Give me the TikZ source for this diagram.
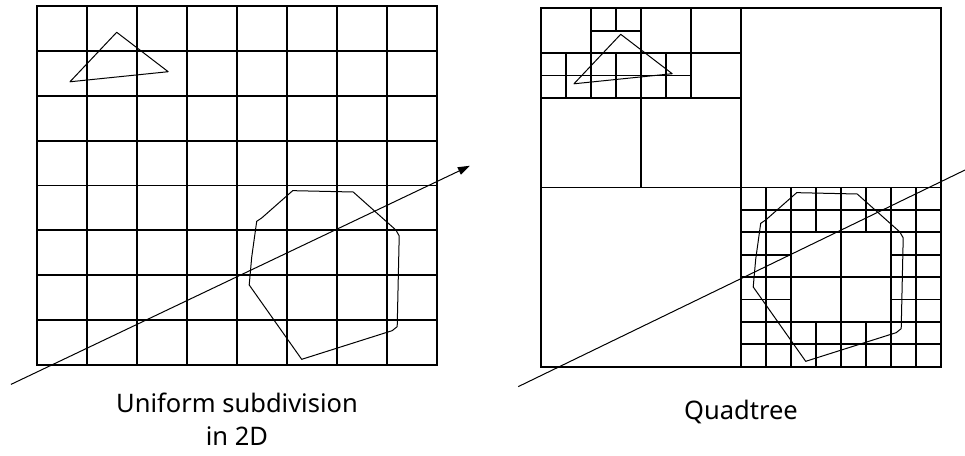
\documentclass[tikz,border=0pt]{standalone}
\usepackage{fontspec}
\setmainfont{Noto Sans}
\usetikzlibrary{arrows.meta}

\begin{document}
\begin{tikzpicture}[x=1pt, y=-1pt,
  cell/.style={line width=1.8pt, line cap=rect},
  outline/.style={line width=1pt, line join=round},
  ray/.style={line width=1pt},
  caption/.style={font=\fontsize{25.5}{33}\selectfont, inner sep=0pt, align=center}]
  \useasboundingbox (0,0) rectangle (965,455);
  \begin{scope}[shift={(36.7,6.3)}, x=25pt, y=-22.4pt]
    \foreach \i in {0,2,...,16} {
      \draw[cell] (\i,0) -- (\i,16);
      \draw[cell] (0,\i) -- (16,\i);
    }
    \draw[outline] (3.2,1.16) -- (5.26,2.92) -- (1.33,3.37) -- cycle;
    \draw[outline] (10.24,8.23) -- (12.66,8.29) -- (14.37,9.99) -- (14.5,10.25) -- (14.42,14.3)
      -- (14.22,14.48) -- (10.6,15.76) -- (8.5,12.44) -- (8.6,11.2) -- (8.8,9.6) -- (9.0,9.45) -- cycle;
    \coordinate (rayUs) at (-1.03,16.88);
    \coordinate (rayUe) at (17.33,7.12);
    \draw[ray, -{Triangle[length=12pt, width=8pt]}] (rayUs) -- (rayUe);
  \end{scope}
  \begin{scope}[shift={(540.7,8.3)}, x=25pt, y=-22.4pt]
    \draw[cell] (0,0) rectangle (16,16);
    \draw[cell] (8,0) -- (8,16) (0,8) -- (16,8);
    \draw[cell] (4,0) -- (4,8) (0,4) -- (8,4) (0,2) -- (8,2);
    \draw[cell] (2,0) -- (2,4) (6,0) -- (6,4);
    \draw[cell] (3,0) -- (3,1) (2,1) -- (4,1);
    \draw[cell] (1,2) -- (1,4) (3,2) -- (3,4) (5,2) -- (5,4) (0,3) -- (6,3);
    \foreach \i in {9,10,12,14,15} {
      \draw[cell] (\i,8) -- (\i,16);
      \draw[cell] (8,\i) -- (16,\i);
    }
    \foreach \i in {11,13} {
      \draw[cell] (\i,8) -- (\i,10) (\i,14) -- (\i,16);
      \draw[cell] (8,\i) -- (10,\i) (14,\i) -- (16,\i);
    }
    \draw[outline] (3.2,1.16) -- (5.26,2.92) -- (1.33,3.37) -- cycle;
    \draw[outline] (10.24,8.23) -- (12.66,8.29) -- (14.37,9.99) -- (14.5,10.25) -- (14.42,14.3)
      -- (14.22,14.48) -- (10.6,15.76) -- (8.5,12.44) -- (8.6,11.2) -- (8.8,9.6) -- (9.0,9.45) -- cycle;
    \coordinate (rayQs) at (-0.9,16.89);
    \coordinate (rayQe) at (16.97,7.22);
    \draw[ray] (rayQs) -- (rayQe);
  \end{scope}
  \node[caption, anchor=north] (uniCap) at (237,393) {Uniform subdivision\\in 2D};
  \node[caption, anchor=base] (quadCap) at (741,419) {Quadtree};
\end{tikzpicture}
\end{document}
